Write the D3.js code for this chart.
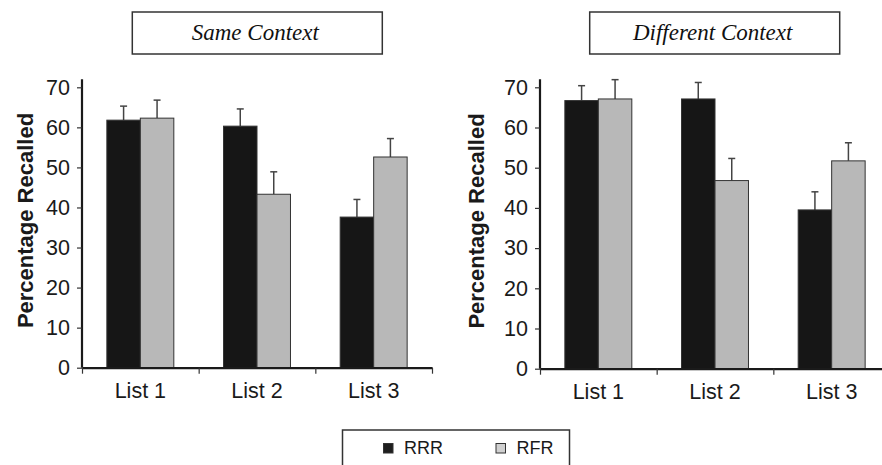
<!DOCTYPE html>
<html>
<head>
<meta charset="utf-8">
<script src="https://cdn.jsdelivr.net/npm/d3@7"></script>
<style>
  body { margin: 0; background: #fff; }
  svg { display: block; }
  .tick text { font-family: "Liberation Sans", Arial, sans-serif; }
</style>
</head>
<body>
<svg id="chart" width="882" height="465"></svg>
<script>
// data
var lists = ["List 1", "List 2", "List 3"];
var seriesNames = ["RRR", "RFR"];
var yTicks = [0, 10, 20, 30, 40, 50, 60, 70];
var panelTitles = ["Same Context", "Different Context"];

var sameRRR = [61.8, 60.3, 37.6];
var sameRRRErr = [3.5, 4.3, 4.4];
var sameRFR = [62.3, 43.3, 52.6];
var sameRFRErr = [4.5, 5.6, 4.6];

var diffRRR = [66.7, 67.1, 39.5];
var diffRRRErr = [3.7, 4.1, 4.5];
var diffRFR = [67.1, 46.8, 51.7];
var diffRFRErr = [4.8, 5.5, 4.5];

var colors = { RRR: "#161616", RFR: "#b8b8b8" };

var svg = d3.select("#chart");

var panels = [
    { title: panelTitles[0], x0: 82, yTop: 87.3, yZero: 367.7, labelX: 32.5, box: [132.3, 382.3],
      values: { RRR: sameRRR, RFR: sameRFR }, errs: { RRR: sameRRRErr, RFR: sameRFRErr } },
    { title: panelTitles[1], x0: 540, yTop: 87.3, yZero: 368.7, labelX: 484, box: [589.7, 839.7],
      values: { RRR: diffRRR, RFR: diffRFR }, errs: { RRR: diffRRRErr, RFR: diffRFRErr } }
];

var plotW = 350;

panels.forEach(function (p) {
    let g = svg.append("g");

    // title box
    g.append("rect")
        .attr("x", p.box[0]).attr("y", 12)
        .attr("width", p.box[1] - p.box[0]).attr("height", 42)
        .attr("fill", "#fff").attr("stroke", "#333").attr("stroke-width", 1.5);
    g.append("text")
        .attr("x", (p.box[0] + p.box[1]) / 2 - 2).attr("y", 40)
        .attr("text-anchor", "middle")
        .style("font-family", "'Liberation Serif', 'DejaVu Serif', serif")
        .style("font-style", "italic")
        .style("font-size", "23px")
        .attr("fill", "#111")
        .text(p.title);

    let x = d3.scaleBand().domain(lists)
        .range([p.x0, p.x0 + plotW])
        .paddingInner(0.426).paddingOuter(0.213);
    let xs = d3.scaleBand().domain(seriesNames).range([0, x.bandwidth()]);
    let y = d3.scaleLinear().domain([0, 70]).range([p.yZero, p.yTop]);

    let rows = [];
    lists.forEach(function (l, i) {
        seriesNames.forEach(function (s) {
            rows.push({ list: l, series: s, v: p.values[s][i], e: p.errs[s][i] });
        });
    });

    // error bars (upper only)
    let eb = g.append("g").selectAll("g").data(rows).enter().append("g");
    eb.append("line")
        .attr("x1", d => x(d.list) + xs(d.series) + xs.bandwidth() / 2)
        .attr("x2", d => x(d.list) + xs(d.series) + xs.bandwidth() / 2)
        .attr("y1", d => y(d.v))
        .attr("y2", d => y(d.v + d.e))
        .attr("stroke", "#444").attr("stroke-width", 1.5);
    eb.append("line")
        .attr("x1", d => x(d.list) + xs(d.series) + xs.bandwidth() / 2 - 3.5)
        .attr("x2", d => x(d.list) + xs(d.series) + xs.bandwidth() / 2 + 3.5)
        .attr("y1", d => y(d.v + d.e))
        .attr("y2", d => y(d.v + d.e))
        .attr("stroke", "#444").attr("stroke-width", 1.5);

    // bars
    g.append("g").selectAll("rect").data(rows).enter().append("rect")
        .attr("x", d => x(d.list) + xs(d.series))
        .attr("y", d => y(d.v))
        .attr("width", xs.bandwidth())
        .attr("height", d => y(0) - y(d.v))
        .attr("fill", d => colors[d.series])
        .attr("stroke", "#333").attr("stroke-width", 1);

    // y axis
    let yAxis = d3.axisLeft(y).tickValues(yTicks).tickSizeInner(5).tickSizeOuter(0).tickPadding(7);
    let ya = g.append("g").attr("transform", "translate(" + p.x0 + ",0)").call(yAxis);
    ya.select(".domain").attr("d", "M0," + (p.yTop - 8) + "V" + p.yZero)
        .attr("stroke", "#1a1a1a").attr("stroke-width", 2.2);
    ya.selectAll(".tick line").attr("stroke", "#333").attr("stroke-width", 1.2);
    ya.selectAll(".tick text").style("font-size", "21.5px").attr("fill", "#1a1a1a");

    // x axis: boundary ticks
    let xb = d3.scaleLinear().domain([0, 3]).range([p.x0, p.x0 + plotW]);
    let xbAxis = d3.axisBottom(xb).tickValues([0, 1, 2, 3]).tickSizeInner(6).tickSizeOuter(0).tickFormat("");
    let xba = g.append("g").attr("transform", "translate(0," + p.yZero + ")").call(xbAxis);
    xba.select(".domain").attr("stroke", "#1a1a1a").attr("stroke-width", 2.2);
    xba.selectAll(".tick line").attr("stroke", "#333").attr("stroke-width", 1.2);

    // x labels
    let xAxis = d3.axisBottom(x).tickSize(0).tickPadding(15);
    let xa = g.append("g").attr("transform", "translate(0," + p.yZero + ")").call(xAxis);
    xa.select(".domain").remove();
    xa.selectAll(".tick text").style("font-size", "21.5px").attr("fill", "#1a1a1a");

    // y label
    g.append("text")
        .attr("transform", "translate(" + p.labelX + "," + ((p.yTop + p.yZero) / 2 - 7) + ") rotate(-90)")
        .attr("text-anchor", "middle")
        .style("font-family", "'Liberation Sans', Arial, sans-serif")
        .style("font-weight", "bold")
        .style("font-size", "22px")
        .attr("fill", "#1a1a1a")
        .text("Percentage Recalled");
});

// legend
let lg = svg.append("g");
lg.append("rect").attr("x", 342.5).attr("y", 430).attr("width", 227).attr("height", 45)
    .attr("fill", "#fff").attr("stroke", "#333").attr("stroke-width", 1.5);
let legendX = d3.scalePoint().domain(seriesNames).range([383.5, 496]);
let li = lg.selectAll("g.item").data(seriesNames).enter().append("g").attr("class", "item")
    .attr("transform", d => "translate(" + legendX(d) + ",443.5)");
li.append("rect").attr("width", 9.5).attr("height", 9.5)
    .attr("fill", d => d === "RRR" ? "#1e1e1e" : "#d0d0d0")
    .attr("stroke", "#333").attr("stroke-width", 1);
li.append("text").attr("x", 20.5).attr("y", 10.5)
    .style("font-family", "'Liberation Sans', Arial, sans-serif")
    .style("font-size", "18px")
    .attr("fill", "#1a1a1a")
    .text(d => d);
</script>
</body>
</html>
